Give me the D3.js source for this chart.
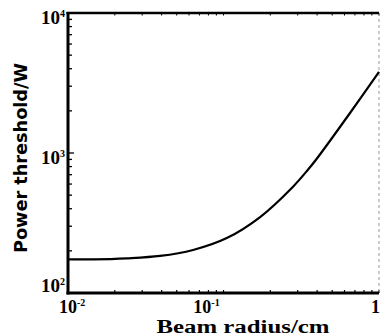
<!DOCTYPE html>
<html>
<head>
    <meta charset="utf-8" />
    <title>Power threshold vs beam radius</title>
    <style>
        body { margin: 0; background: #fff; }
        .tick-label { font-family: "Liberation Serif", serif; font-weight: bold; fill: #000; }
        .axis-title { font-weight: bold; fill: #000; }
        .curve { fill: none; stroke: #000; stroke-width: 2.2px; }
    </style>
    <script src="https://cdn.jsdelivr.net/npm/d3@7/dist/d3.min.js"></script>
</head>
<body>
    <svg width="381" height="336"></svg>

    <script>
        // beam radius (cm) and power threshold (W)
        var radius = [0.01, 0.0145, 0.0239, 0.0391, 0.0637, 0.105, 0.172, 0.280, 0.349, 0.399, 0.651, 1];
        var power = [174, 174, 177, 184, 203, 247, 349, 575, 759, 914, 1931, 3800];

        var xTicks = [0.01, 0.1, 1];
        var xTickBase = ['10', '10', '1'];
        var xTickSup = ['-2', '-1', ''];
        var yTicks = [100, 1000, 10000];
        var yTickSup = ['2', '3', '4'];

        var svg = d3.select('svg'),
            margin = { top: 13, right: 2, bottom: 43, left: 68 },
            width = +svg.attr('width') - margin.left - margin.right,
            height = +svg.attr('height') - margin.top - margin.bottom;

        var x = d3.scaleLog().domain([0.01, 1]).range([0, width]);
        var y = d3.scaleLog().domain([100, 10000]).range([height, 0]);

        var g = svg.append('g')
            .attr('transform', 'translate(' + margin.left + ',' + margin.top + ')');

        // minor + major ticks, drawn inside the frame
        var yMinor = y.ticks();
        var xMinor = x.ticks();

        g.selectAll('.ytick')
            .data(yMinor)
            .enter().append('line')
                .attr('x1', 0).attr('x2', function(d) { return yTicks.indexOf(d) >= 0 ? 6 : 4; })
                .attr('y1', function(d) { return y(d); })
                .attr('y2', function(d) { return y(d); })
                .attr('stroke', '#000').attr('stroke-width', 1.3);

        g.selectAll('.xtick')
            .data(xMinor)
            .enter().append('line')
                .attr('x1', function(d) { return x(d); })
                .attr('x2', function(d) { return x(d); })
                .attr('y1', height).attr('y2', height - 3)
                .attr('stroke', '#000').attr('stroke-width', 1.2);

        g.selectAll('.xtick-top')
            .data(xMinor)
            .enter().append('line')
                .attr('x1', function(d) { return x(d); })
                .attr('x2', function(d) { return x(d); })
                .attr('y1', 0).attr('y2', 2.5)
                .attr('stroke', '#000').attr('stroke-width', 1);

        // frame
        g.append('line').attr('x1', width).attr('x2', width).attr('y1', 0).attr('y2', height)
            .attr('stroke', '#999').attr('stroke-width', 1).attr('stroke-dasharray', '3,3');
        g.append('line').attr('x1', -1.5).attr('x2', width).attr('y1', 0).attr('y2', 0)
            .attr('stroke', '#000').attr('stroke-width', 2.5);
        g.append('line').attr('x1', -1.5).attr('x2', width).attr('y1', height).attr('y2', height)
            .attr('stroke', '#000').attr('stroke-width', 3);
        g.append('line').attr('x1', 0).attr('x2', 0).attr('y1', -1).attr('y2', height + 1.5)
            .attr('stroke', '#000').attr('stroke-width', 3);

        // curve
        var line = d3.line()
            .x(function(d, i) { return x(radius[i]); })
            .y(function(d) { return y(d); })
            .curve(d3.curveCatmullRom.alpha(0.5));

        g.append('path')
            .datum(power)
            .attr('class', 'curve')
            .attr('d', line);

        // y tick labels
        var yl = g.selectAll('.ylab')
            .data(yTicks)
            .enter().append('text')
                .attr('class', 'tick-label')
                .attr('text-anchor', 'end')
                .attr('x', -3)
                .attr('y', function(d) { return Math.min(y(d) + 11, height - 1); })
                .style('font-size', '19px');
        yl.append('tspan').text('10');
        yl.append('tspan')
            .attr('dy', -7)
            .style('font-size', '10px')
            .text(function(d, i) { return yTickSup[i]; });

        // x tick labels
        var xl = g.selectAll('.xlab')
            .data(xTicks)
            .enter().append('text')
                .attr('class', 'tick-label')
                .attr('text-anchor', function(d, i) { return i === 0 ? 'start' : (i === xTicks.length - 1 ? 'end' : 'middle'); })
                .attr('x', function(d, i) { return x(d) + (i === 0 ? -9 : (i === xTicks.length - 1 ? 1 : -17)); })
                .attr('y', height + 20)
                .style('font-size', '18px');
        xl.append('tspan').text(function(d, i) { return xTickBase[i]; });
        xl.append('tspan')
            .attr('dy', -7)
            .style('font-size', '10px')
            .text(function(d, i) { return xTickSup[i]; });

        // axis titles
        svg.append('text')
            .attr('class', 'axis-title')
            .attr('text-anchor', 'middle')
            .attr('x', 243)
            .attr('y', 333)
            .attr('textLength', 173)
            .attr('lengthAdjust', 'spacingAndGlyphs')
            .style('font-family', '"Liberation Serif", serif')
            .style('font-size', '18px')
            .text('Beam radius/cm');

        svg.append('text')
            .attr('class', 'axis-title')
            .attr('text-anchor', 'middle')
            .attr('transform', 'translate(27,158) rotate(-90)')
            .attr('textLength', 190)
            .attr('lengthAdjust', 'spacingAndGlyphs')
            .style('font-family', '"DejaVu Sans", sans-serif')
            .style('font-size', '17px')
            .text('Power threshold/W');
    </script>
</body>
</html>
